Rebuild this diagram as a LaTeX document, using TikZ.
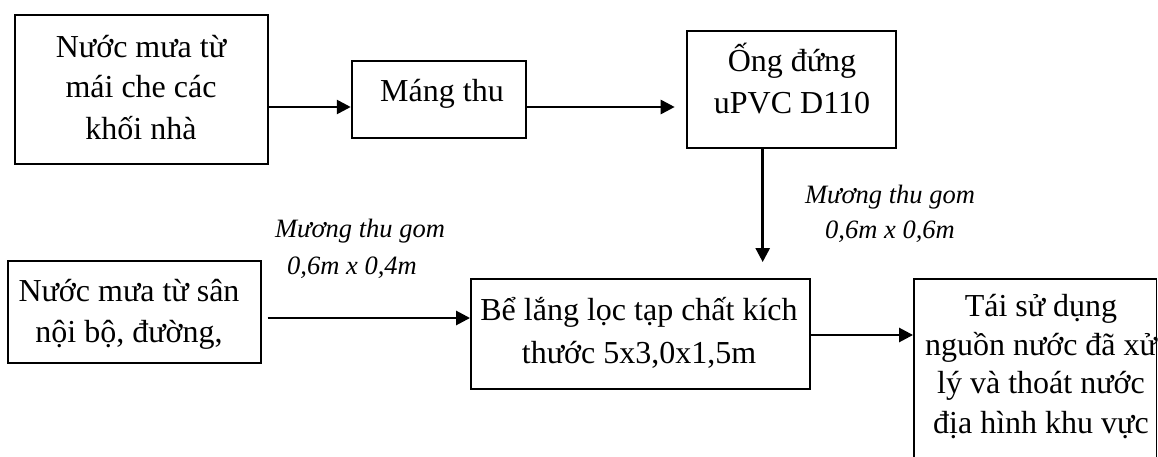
\documentclass[tikz,border=0pt]{standalone}
\usepackage{fontspec}
\setmainfont{Liberation Serif}
\usetikzlibrary{arrows.meta}
\begin{document}
\begin{tikzpicture}[x=1pt,y=-1pt,
  boxn/.style 2 args={draw,line width=1.9pt,inner sep=0pt,minimum width=#1,minimum height=#2},
  txt/.style={anchor=base,inner sep=0pt,font=\fontsize{32}{38}\selectfont},
  lbl/.style={anchor=base,inner sep=0pt,font=\fontsize{26.5}{30}\selectfont\itshape},
  arr/.style={line width=2.7pt,-{Triangle[length=14pt,width=14pt]}}]
\useasboundingbox (0,0) rectangle (1158,457);
\clip (0,0) rectangle (1158,457);
% boxes
\node[boxn={253.3pt}{149.3pt}] (b1) at (141.3,89.3) {};
\node[boxn={174pt}{77pt}] (b2) at (438.7,99.5) {};
\node[boxn={209.3pt}{117pt}] (b3) at (791.3,89.2) {};
\node[boxn={253pt}{102.3pt}] (b6) at (134.5,311.8) {};
\node[boxn={339pt}{110pt}] (b4) at (640.5,334) {};
\node[boxn={242.5pt}{221pt}] (b5) at (1035.25,389.5) {};
% texts
\node[txt] (t1a) at (141,57.3) {Nước mưa từ};
\node[txt] (t1b) at (141,97.7) {mái che các};
\node[txt] (t1c) at (141,139.3) {khối nhà};
\node[txt] (t2a) at (442,102) {Máng thu};
\node[txt] (t3a) at (792,71.7) {Ống đứng};
\node[txt] (t3b) at (792,113.3) {uPVC D110};
\node[txt] (t6a) at (129,301) {Nước mưa từ sân};
\node[txt] (t6b) at (129,342) {nội bộ, đường,};
\node[txt] (t4a) at (639,320) {Bể lắng lọc tạp chất kích};
\node[txt] (t4b) at (639,363) {thước 5x3,0x1,5m};
\node[txt] (t5a) at (1041,316.7) {Tái sử dụng};
\node[txt] (t5b) at (1041,355) {nguồn nước đã xử};
\node[txt] (t5c) at (1041,393.3) {lý và thoát nước};
\node[txt] (t5d) at (1041,433.3) {địa hình khu vực};
% labels
\node[lbl] (l1a) at (360,237) {Mương thu gom};
\node[lbl] (l1b) at (352,274) {0,6m x 0,4m};
\node[lbl] (l2a) at (890,203) {Mương thu gom};
\node[lbl] (l2b) at (890,238) {0,6m x 0,6m};
% connectors
\draw[arr] ([yshift=-17.7pt]b1.east) -- ([yshift=-7.5pt]b2.west);
\draw[arr,shorten >=11pt] ([yshift=-7.5pt]b2.east) -- ([yshift=-17.8pt]b3.west);
\draw[arr,shorten >=16pt] ([xshift=-28.6pt]b3.south) -- ([xshift=122.2pt]b4.north);
\draw[arr,shorten <=5.7pt] ([yshift=-6.2pt]b6.east) -- ([yshift=16pt]b4.west);
\draw[arr] ([yshift=-1pt]b4.east) -- ([yshift=54.5pt]b5.west);
\end{tikzpicture}
\end{document}
